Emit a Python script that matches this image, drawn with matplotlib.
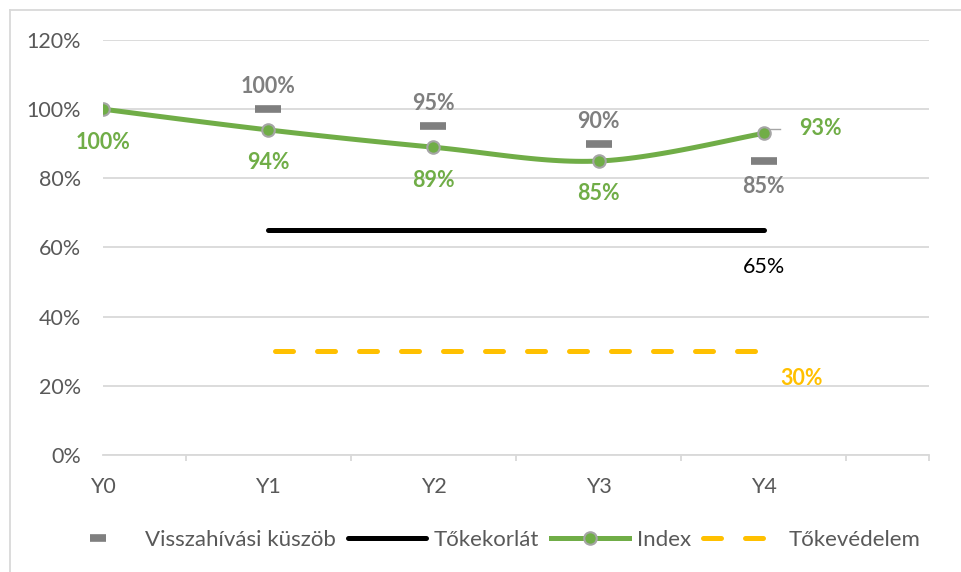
import numpy as np
import matplotlib
matplotlib.use("Agg")
import matplotlib.pyplot as plt
from matplotlib.lines import Line2D

plt.rcParams['font.family'] = ['Lato', 'DejaVu Sans']

years = ['Y0', 'Y1', 'Y2', 'Y3', 'Y4']
kuszob = [None, 1.00, 0.95, 0.90, 0.85]      # Visszahívási küszöb
tokekorlat = [None, 0.65, 0.65, 0.65, 0.65]  # Tőkekorlát
index = [1.00, 0.94, 0.89, 0.85, 0.93]       # Index
tokevedelem = [None, 0.30, 0.30, 0.30, 0.30] # Tőkevédelem

GRAY = '#7f7f7f'
GREEN = '#70ad47'
ORANGE = '#ffc000'
TXT = '#595959'
FS = 15.5


def smooth(xs, ys, n=30):
    # Excel style smoothed line (bezier through the points)
    xs = np.asarray(xs, float)
    ys = np.asarray(ys, float)
    px, py = [], []
    for i in range(len(xs) - 1):
        x0, y0 = xs[max(i - 1, 0)], ys[max(i - 1, 0)]
        x1, y1 = xs[i], ys[i]
        x2, y2 = xs[i + 1], ys[i + 1]
        x3, y3 = xs[min(i + 2, len(xs) - 1)], ys[min(i + 2, len(xs) - 1)]
        c1x, c1y = x1 + (x2 - x0) / 6, y1 + (y2 - y0) / 6
        c2x, c2y = x2 - (x3 - x1) / 6, y2 - (y3 - y1) / 6
        t = np.linspace(0, 1, n)
        px.extend((1-t)**3*x1 + 3*(1-t)**2*t*c1x + 3*(1-t)*t**2*c2x + t**3*x2)
        py.extend((1-t)**3*y1 + 3*(1-t)**2*t*c1y + 3*(1-t)*t**2*c2y + t**3*y2)
    return px, py


fig = plt.figure(figsize=(9.61, 5.72), dpi=100)
ax = fig.add_axes([103/961, 1 - 455/572, (929-103)/961, (455-40)/572])

x = np.arange(len(years))

# gridlines
ax.set_ylim(0, 1.2)
ax.set_xlim(0, 5)
ax.set_yticks(np.arange(0, 1.21, 0.2))
ax.set_yticklabels([f'{int(round(v*100))}%' for v in np.arange(0, 1.21, 0.2)])
ax.yaxis.grid(True, color='#d9d9d9', linewidth=1.3)
ax.set_axisbelow(True)
for s in ['top', 'right', 'left']:
    ax.spines[s].set_visible(False)
ax.spines['bottom'].set_color('#d9d9d9')
ax.spines['bottom'].set_linewidth(1.3)
ax.tick_params(axis='y', length=0, pad=16, labelsize=FS, labelcolor=TXT)
ax.set_xticks(x)
ax.set_xticklabels(years)
ax.tick_params(axis='x', length=0, pad=16, labelsize=FS, labelcolor=TXT)
ax.set_xticks([0.5, 1.5, 2.5, 3.5, 4.5, 5], minor=True)
ax.tick_params(axis='x', which='minor', length=4, color='#d9d9d9', width=1.3)

# Tőkevédelem
kx = [i for i, v in enumerate(tokevedelem) if v is not None]
ky = [v for v in tokevedelem if v is not None]
ax.plot([kx[0] + 0.04, kx[-1] + 0.0], [ky[0], ky[-1]], color=ORANGE, lw=3.6,
        dashes=(3.6, 4.8), dash_capstyle='round', solid_capstyle='round')
ax.text(kx[-1] + 0.23, ky[-1] - 0.08, '30%', color=ORANGE, fontsize=FS,
        fontweight='bold', ha='center', va='center')

# Tőkekorlát
tx = [i for i, v in enumerate(tokekorlat) if v is not None]
ty = [v for v in tokekorlat if v is not None]
ax.plot(tx, ty, color='black', lw=3.6, solid_capstyle='round')
ax.text(tx[-1], ty[-1] - 0.105, '65%', color='black', fontsize=FS,
        ha='center', va='center')

# Visszahívási küszöb
qx = [i for i, v in enumerate(kuszob) if v is not None]
qy = [v for v in kuszob if v is not None]
ax.plot(qx, qy, ls='none', marker='_', ms=19, mew=5.5, color=GRAY)
for i, v in zip(qx, qy):
    dy = 0.065 if i < 4 else -0.075
    ax.text(i, v + dy, f'{int(round(v*100))}%', color=GRAY, fontsize=FS,
            fontweight='bold', ha='center', va='center')

# Index
sx, sy = smooth(x, index)
ax.plot(sx, sy, color=GREEN, lw=3.6, solid_capstyle='round', zorder=4)
ax.plot(x, index, ls='none', marker='o', ms=9, mfc=GREEN, mec='#a5a5a5',
        mew=1.5, zorder=5)
for i, v in enumerate(index):
    if i == 4:
        ax.plot([i + 0.0, i + 0.1], [v + 0.012, v + 0.012], color='#a5a5a5', lw=1)
        ax.text(i + 0.34, v + 0.013, f'{int(round(v*100))}%', color=GREEN,
                fontsize=FS, fontweight='bold', ha='center', va='center')
    else:
        ax.text(i, v - 0.095, f'{int(round(v*100))}%', color=GREEN, fontsize=FS,
                fontweight='bold', ha='center', va='center')

# legend
handles = [
    Line2D([], [], ls='none', marker='_', ms=12, mew=5.5, color=GRAY),
    Line2D([], [], color='black', lw=3.6, solid_capstyle='round'),
    Line2D([], [], color=GREEN, lw=3.6, marker='o', ms=9, mfc=GREEN,
           mec='#a5a5a5', mew=1.5),
    Line2D([], [], color=ORANGE, lw=3.6, dashes=(3.6, 4.8), dash_capstyle='round'),
]
labels = ['Visszahívási küszöb', 'Tőkekorlát', 'Index', 'Tőkevédelem']
fig.legend(handles, labels, loc='center', bbox_to_anchor=(0.51, 1 - 540/572),
           ncol=4, frameon=False, fontsize=16, labelcolor=TXT,
           handlelength=3.5, handletextpad=0.35, columnspacing=0.55)

# chart border
fig.add_artist(Line2D([10/961, 10/961], [0, 1 - 10/572], color='#d9d9d9',
                      lw=1.3, transform=fig.transFigure))
fig.add_artist(Line2D([10/961, 1], [1 - 10/572, 1 - 10/572], color='#d9d9d9',
                      lw=1.3, transform=fig.transFigure))

fig.savefig('out.png', dpi=100)
